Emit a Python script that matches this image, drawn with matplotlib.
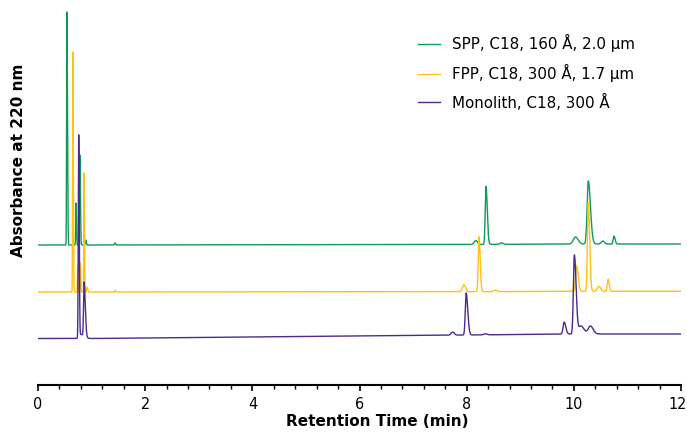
"""Chromatogram overlay: SPP vs FPP vs Monolith C18 columns."""

import matplotlib.pyplot as plt
import matplotlib.transforms as mtransforms
import numpy as np
from matplotlib.ticker import MultipleLocator

# Peak tables: retention time (min), height, left/right width (min)
labels = ['SPP, C18, 160 Å, 2.0 μm', 'FPP, C18, 300 Å, 1.7 μm', 'Monolith, C18, 300 Å']
colors = ['#109A5A', '#FFC20E', '#4B2A8C']
xticks = [0, 2, 4, 6, 8, 10, 12]

spp_rt = [0.54, 0.71, 0.78, 0.89, 1.44, 8.17, 8.36, 8.65, 10.03, 10.27, 10.54, 10.75]
spp_h  = [233, 42, 90, 5, 2, 4, 58, 1.5, 7, 63, 3, 8]
spp_wl = [0.006, 0.006, 0.006, 0.008, 0.01, 0.03, 0.014, 0.03, 0.04, 0.022, 0.03, 0.015]
spp_wr = [0.010, 0.008, 0.010, 0.010, 0.01, 0.03, 0.024, 0.03, 0.05, 0.040, 0.03, 0.020]

fpp_rt = [0.65, 0.74, 0.79, 0.86, 0.92, 1.44, 7.95, 8.23, 8.54, 10.05, 10.27, 10.47, 10.64]
fpp_h  = [240, 25, 29, 119, 5, 1.5, 7, 55, 1.5, 26, 89, 5, 12]
fpp_wl = [0.005, 0.005, 0.006, 0.005, 0.01, 0.01, 0.03, 0.014, 0.03, 0.018, 0.016, 0.03, 0.016]
fpp_wr = [0.008, 0.006, 0.008, 0.008, 0.01, 0.01, 0.03, 0.022, 0.03, 0.030, 0.025, 0.03, 0.020]

mono_rt = [0.76, 0.80, 0.86, 7.74, 7.99, 8.35, 9.82, 10.01, 10.13, 10.31]
mono_h  = [202, 4, 54, 3, 42, 1, 12, 79, 8, 8]
mono_wl = [0.008, 0.03, 0.010, 0.03, 0.016, 0.03, 0.02, 0.018, 0.04, 0.04]
mono_wr = [0.010, 0.06, 0.022, 0.03, 0.030, 0.03, 0.03, 0.032, 0.06, 0.05]

# baseline level of each trace (pixels above the time axis), read at a few times
base_t    = [0, 1, 8, 10, 12]
spp_base  = [140, 140, 140.5, 141, 141]
fpp_base  = [93, 93, 93.3, 93.7, 93.7]
mono_base = [46.5, 46.5, 50, 51, 51]

t = np.linspace(0, 12, 12001)


def trace(rt, h, wl, wr, base):
    y = np.interp(t, base_t, base)
    for r, a, sl, sr in zip(rt, h, wl, wr):
        s = np.where(t < r, sl, sr)
        y = y + a * np.exp(-0.5 * ((t - r) / s) ** 2)
    return y


series = [
    trace(spp_rt, spp_h, spp_wl, spp_wr, spp_base),
    trace(fpp_rt, fpp_h, fpp_wl, fpp_wr, fpp_base),
    trace(mono_rt, mono_h, mono_wl, mono_wr, mono_base),
]

fig = plt.figure(figsize=(6.87, 4.32), dpi=100)
ax = fig.add_axes([38 / 687, 47 / 432, 643 / 687, 375 / 432])

for y, c, lab in zip(series, colors, labels):
    ax.plot(t, y, color=c, lw=1.0, label=lab)

ax.set_xlim(0, 12)
ax.set_ylim(0, 375)
ax.set_yticks([])
for side in ['left', 'right', 'top']:
    ax.spines[side].set_visible(False)
ax.spines['bottom'].set_linewidth(1.5)
ax.set_xticks(xticks)
ax.xaxis.set_minor_locator(MultipleLocator(0.4))
ax.tick_params(axis='x', which='major', length=4.5, width=1.2, pad=4, labelsize=11.5)
ax.tick_params(axis='x', which='minor', length=3, width=1.0)
ticklabels = ax.get_xticklabels()
for lbl in ticklabels:
    lbl.set_fontstretch('condensed')
# last label sits on the figure edge; nudge it in a little
shift = mtransforms.ScaledTranslation(-3 / 100, 0, fig.dpi_scale_trans)
ticklabels[-1].set_transform(ticklabels[-1].get_transform() + shift)

ax.set_xlabel('Retention Time (min)', fontsize=11, fontweight='bold')
ax.xaxis.set_label_coords(0.527, -0.078)
ax.set_ylabel('Absorbance at 220 nm', fontsize=11, fontweight='bold')
ax.yaxis.set_label_coords(-0.018, 0.60)

ax.legend(loc='upper left', bbox_to_anchor=(0.57, 0.972), frameon=False, fontsize=10.9,
          handlelength=1.45, handletextpad=0.8, labelspacing=0.78)

fig.savefig('out.png', dpi=100)
